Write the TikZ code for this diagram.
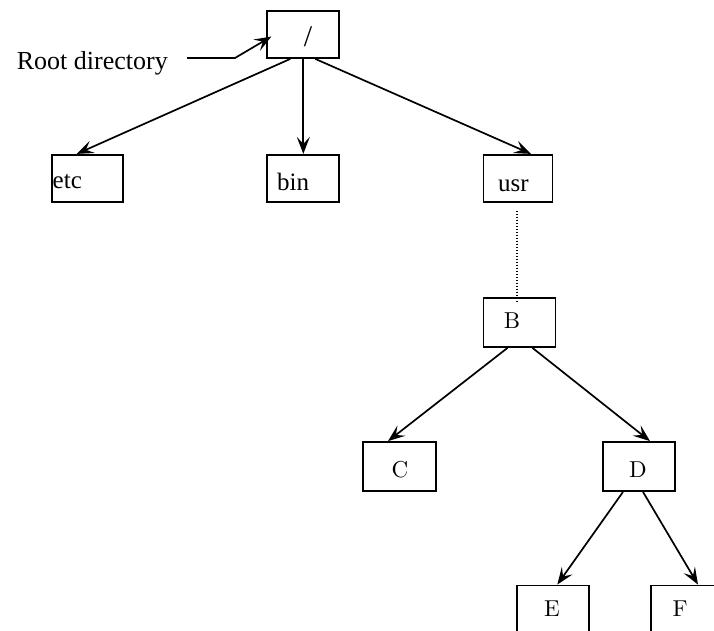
\documentclass[tikz,border=0pt]{standalone}
\usepackage{fontspec}
\newfontfamily\timesfont{Liberation Serif}
\newfontfamily\cmten{lmroman10-regular.otf}
\usetikzlibrary{arrows.meta}
\begin{document}
\begin{tikzpicture}[x=1pt,y=-1pt,
  dirbox/.style={draw, line width=1.8pt, rectangle, inner sep=0pt,
                 minimum width=#1, minimum height=47pt},
  tm/.style={font=\timesfont\fontsize{25}{30}\selectfont, inner sep=0pt},
  lm/.style={font=\cmten\fontsize{23}{28}\selectfont, inner sep=0pt},
  link/.style={line width=1.7pt, -{Stealth[length=17pt,width=13pt,inset=7pt]}},
  dots/.style={line width=1.3pt, dash pattern=on 1.3pt off 1.7pt}]
\useasboundingbox (0,0) rectangle (714,630);

% directory boxes
\node[dirbox=72pt] (root) at (303.3,34.5) {};
\node[dirbox=71pt] (etc) at (87.5,178.3) {};
\node[dirbox=72pt] (bin) at (303.3,178.3) {};
\node[dirbox=69pt] (usr) at (518,178.3) {};
\node[dirbox=72pt, minimum height=49pt] (B) at (519.5,322.5) {};
\node[dirbox=73pt, minimum height=49pt] (C) at (399.5,466.5) {};
\node[dirbox=72pt, minimum height=49pt] (D) at (639,466.5) {};
\node[dirbox=72pt, minimum height=49pt] (E) at (552.8,610) {};
\node[dirbox=73pt, minimum height=49pt] (F) at (687.5,610) {};

% names inside the boxes
\node[inner sep=0pt, anchor=base, font=\timesfont\fontsize{30}{36}\selectfont]
  (rootT) at (308,46.3) {/};
\node[tm, anchor=base west] (etcT) at (52.5,188) {etc};
\node[tm, anchor=base west] (binT) at (277,190) {bin};
\node[tm, anchor=base] (usrT) at (513.5,191.5) {usr};
\node[lm, anchor=base] (BT) at (512,328.3) {B};
\node[lm, anchor=base] (CT) at (400,477) {C};
\node[lm, anchor=base] (DT) at (638,477) {D};
\node[lm, anchor=base] (ET) at (552,616) {E};
\node[lm, anchor=base] (FT) at (680,616) {F};

% pointer to the root
\node[inner sep=0pt, anchor=base west,
      font=\timesfont\fontsize{26}{31}\selectfont] (rootLbl) at (16.7,69.3) {Root directory};
\coordinate (lblStart) at (187,58);
\coordinate (lblBend) at (235,58);
\draw[link] (lblStart) -- (lblBend) -- ([xshift=5pt,yshift=-2pt]root.west);

% tree edges
\draw[link] ([xshift=-13pt]root.south) -- ([xshift=-10.8pt]etc.north);
\draw[link] (root.south) -- (root.south |- bin.north);
\draw[link] ([xshift=12pt]root.south) -- ([xshift=13pt]usr.north);
\coordinate (bTop) at (B.north -| usr.south);
\draw[dots] ([xshift=-1pt,yshift=-8pt]usr.south) -- ([xshift=-1pt,yshift=-5pt]bTop);
\draw[link] ([xshift=-12pt]B.south) -- ([xshift=-11.5pt]C.north);
\draw[link] ([xshift=13pt]B.south) -- ([xshift=11pt]D.north);
\draw[link] ([xshift=-16pt]D.south) -- ([xshift=4.5pt]E.north);
\draw[link] ([xshift=4pt]D.south) -- ([xshift=10.5pt]F.north);
\end{tikzpicture}
\end{document}
